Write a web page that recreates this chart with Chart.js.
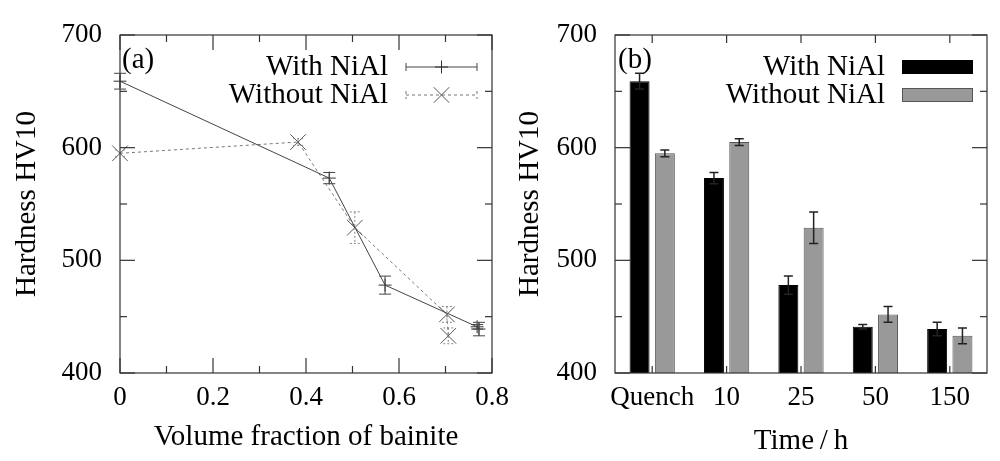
<!DOCTYPE html>
<html>
<head>
<meta charset="utf-8">
<script src="https://cdn.jsdelivr.net/npm/chart.js@4.4.1/dist/chart.umd.min.js"></script>
<style>
  html, body { margin: 0; padding: 0; background: #fff; }
  #wrapA { position: absolute; left: 0; top: 0; }
  #wrapB { position: absolute; left: 500px; top: 0; }
</style>
</head>
<body>
<div id="wrapB"><canvas id="chartB" width="500" height="461"></canvas></div>
<div id="wrapA"><canvas id="chartA" width="520" height="461"></canvas></div>
<script>
// hardness (HV10) per tempering time
const times = ['Quench', '10', '25', '50', '150'];
const hardnessWith = [659, 573, 478, 441, 439];
const errWith = [7, 5, 8, 2, 6];
const hardnessWithout = [595, 605, 529, 452, 433];
const errWithout = [3, 3, 14, 7, 7];

// bainite volume fraction for the same samples
const fractionWith = [0, 0.45, 0.57, 0.768, 0.772];
const fractionWithout = [0, 0.383, 0.505, 0.703, 0.706];

const serif = "'Liberation Serif', 'Times New Roman', serif";
const tickFont = { family: serif, size: 27 };
const textFont = { family: serif, size: 29 };

function points(xs, ys) {
  return xs.map((x, i) => ({ x: x, y: ys[i] }));
}

function line(ctx, x0, y0, x1, y1) {
  ctx.beginPath();
  ctx.moveTo(x0, y0);
  ctx.lineTo(x1, y1);
  ctx.stroke();
}

// box round the plot and inward ticks, gnuplot style
const framePlugin = {
  id: 'frame',
  afterDatasetsDraw(chart, args, opts) {
    const { ctx, chartArea: a, scales: { x, y } } = chart;
    ctx.save();
    ctx.strokeStyle = '#333';
    ctx.lineWidth = 1.2;
    ctx.strokeRect(a.left, a.top, a.right - a.left, a.bottom - a.top);
    for (let v = y.min; v <= y.max + 1e-9; v += opts.yMinor) {
      const p = y.getPixelForValue(v);
      const len = Math.abs((v - y.min) % opts.yMajor) < 1e-6 ? 15 : 7;
      line(ctx, a.left, p, a.left + len, p);
      line(ctx, a.right, p, a.right - len, p);
    }
    if (x.type === 'category') {
      x.getLabels().forEach((lab, i) => {
        const p = x.getPixelForValue(i);
        line(ctx, p, a.bottom, p, a.bottom - 7);
        line(ctx, p, a.top, p, a.top + 8);
      });
    } else {
      for (let v = x.min; v <= x.max + 1e-9; v += opts.xMinor) {
        const p = x.getPixelForValue(v);
        const r = (v - x.min) / opts.xMajor;
        const len = Math.abs(r - Math.round(r)) < 1e-6 ? 15 : 7;
        line(ctx, p, a.bottom, p, a.bottom - len);
        line(ctx, p, a.top, p, a.top + len);
      }
    }
    ctx.restore();
  }
};

const errorBarPlugin = {
  id: 'errorBars',
  afterDatasetsDraw(chart) {
    const ctx = chart.ctx;
    const y = chart.scales.y;
    chart.data.datasets.forEach((ds, di) => {
      if (!ds.errors) return;
      const meta = chart.getDatasetMeta(di);
      ctx.save();
      ctx.strokeStyle = ds.errorColor;
      ctx.lineWidth = ds.errorWidth;
      ctx.setLineDash(ds.errorDash || []);
      meta.data.forEach((el, i) => {
        const d = ds.data[i];
        const val = typeof d === 'object' ? d.y : d;
        const top = y.getPixelForValue(val + ds.errors[i]);
        const bot = y.getPixelForValue(val - ds.errors[i]);
        const w = ds.errorCap;
        ctx.beginPath();
        ctx.moveTo(el.x, top); ctx.lineTo(el.x, bot);
        ctx.moveTo(el.x - w, top); ctx.lineTo(el.x + w, top);
        ctx.moveTo(el.x - w, bot); ctx.lineTo(el.x + w, bot);
        ctx.stroke();
      });
      ctx.restore();
    });
  }
};

// key inside the plot: text right-aligned, sample to its right
const keyPlugin = {
  id: 'key',
  afterDraw(chart, args, opts) {
    const ctx = chart.ctx;
    ctx.save();
    ctx.font = textFont.size + 'px ' + serif;
    ctx.fillStyle = '#000';
    ctx.textBaseline = 'middle';
    ctx.textAlign = 'left';
    ctx.fillText(opts.panel, opts.panelX, opts.panelY);
    chart.data.datasets.forEach((ds, i) => {
      const yy = opts.rows[i];
      const x0 = opts.sampleLeft, x1 = opts.sampleRight;
      ctx.fillStyle = '#000';
      ctx.textAlign = 'right';
      ctx.fillText(ds.label, opts.textRight, yy);
      if (chart.config.type === 'bar') {
        ctx.fillStyle = ds.backgroundColor;
        ctx.strokeStyle = ds.borderColor;
        ctx.lineWidth = 1;
        ctx.fillRect(x0, yy - 7, x1 - x0, 14);
        ctx.strokeRect(x0 + 0.5, yy - 6.5, x1 - x0 - 1, 13);
      } else {
        ctx.strokeStyle = ds.borderColor;
        ctx.lineWidth = 1;
        ctx.setLineDash(ds.borderDash || []);
        line(ctx, x0, yy, x1, yy);
        line(ctx, x0, yy - 4, x0, yy + 4);
        line(ctx, x1, yy - 4, x1, yy + 4);
        ctx.setLineDash([]);
        ctx.strokeStyle = ds.pointBorderColor;
        Chart.helpers.drawPoint(ctx, {
          pointStyle: ds.pointStyle, radius: ds.pointRadius, rotation: 0, borderWidth: 1
        }, (x0 + x1) / 2, yy);
      }
    });
    ctx.restore();
  }
};

new Chart(document.getElementById('chartA'), {
  type: 'scatter',
  data: {
    datasets: [{
      label: 'With NiAl',
      data: points(fractionWith, hardnessWith),
      errors: errWith,
      errorColor: '#444', errorWidth: 1, errorCap: 6,
      showLine: true,
      borderColor: '#444',
      borderWidth: 1,
      pointStyle: 'cross',
      pointRadius: 6.5,
      pointBorderColor: '#333',
      pointBorderWidth: 1,
      clip: false
    }, {
      label: 'Without NiAl',
      data: points(fractionWithout, hardnessWithout),
      errors: errWithout,
      errorColor: '#888', errorWidth: 1, errorCap: 5, errorDash: [2, 2],
      showLine: true,
      borderColor: '#777',
      borderWidth: 1,
      borderDash: [3, 3],
      pointStyle: 'crossRot',
      pointRadius: 11,
      pointBorderColor: '#555',
      pointBorderWidth: 1,
      clip: false
    }]
  },
  options: {
    responsive: false,
    animation: false,
    layout: { padding: { left: 0, right: 28, top: 35, bottom: 0 } },
    plugins: {
      legend: { display: false },
      tooltip: { enabled: false },
      frame: { xMajor: 0.2, xMinor: 0.1, yMajor: 100, yMinor: 50 },
      key: {
        panel: '(a)', panelX: 122, panelY: 60,
        rows: [67, 95], textRight: 388, sampleLeft: 406, sampleRight: 477
      }
    },
    scales: {
      x: {
        type: 'linear', min: 0, max: 0.8,
        ticks: { stepSize: 0.2, padding: 9, font: tickFont, color: '#000', maxRotation: 0 },
        grid: { display: false, drawTicks: false },
        border: { display: false },
        title: { display: true, text: 'Volume fraction of bainite', font: textFont, color: '#000',
                 padding: { top: 0, bottom: 6 } },
        afterFit(s) { s.height = 88; s.paddingLeft = 0; s.paddingRight = 0; }
      },
      y: {
        min: 400, max: 700,
        ticks: { stepSize: 100, padding: 18, font: tickFont, color: '#000' },
        grid: { display: false, drawTicks: false },
        border: { display: false },
        title: { display: true, text: 'Hardness HV10', font: textFont, color: '#000',
                 padding: { top: 10, bottom: 0 } },
        afterFit(s) { s.width = 120; }
      }
    }
  },
  plugins: [framePlugin, errorBarPlugin, keyPlugin]
});

new Chart(document.getElementById('chartB'), {
  type: 'bar',
  data: {
    labels: times,
    datasets: [{
      label: 'With NiAl',
      data: hardnessWith,
      errors: errWith,
      errorColor: '#222', errorWidth: 1.5, errorCap: 4.5,
      backgroundColor: '#000',
      borderColor: '#000',
      borderWidth: 1
    }, {
      label: 'Without NiAl',
      data: hardnessWithout,
      errors: errWithout,
      errorColor: '#222', errorWidth: 1.5, errorCap: 4.5,
      backgroundColor: '#999',
      borderColor: '#555',
      borderWidth: 1
    }]
  },
  options: {
    responsive: false,
    animation: false,
    categoryPercentage: 0.68,
    barPercentage: 0.79,
    layout: { padding: { left: 0, right: 13, top: 35, bottom: 0 } },
    plugins: {
      legend: { display: false },
      tooltip: { enabled: false },
      frame: { yMajor: 100, yMinor: 50 },
      key: {
        panel: '(b)', panelX: 118, panelY: 60,
        rows: [67, 95], textRight: 385, sampleLeft: 402, sampleRight: 473
      }
    },
    scales: {
      x: {
        ticks: { padding: 9, font: tickFont, color: '#000', autoSkip: false, maxRotation: 0, minRotation: 0 },
        grid: { display: false, drawTicks: false },
        border: { display: false },
        title: { display: true, text: 'Time\u2009/\u2009h', font: textFont, color: '#000',
                 padding: { top: 0, bottom: 2 } },
        afterFit(s) { s.height = 88; s.paddingLeft = 0; s.paddingRight = 0; }
      },
      y: {
        min: 400, max: 700,
        ticks: { stepSize: 100, padding: 18, font: tickFont, color: '#000' },
        grid: { display: false, drawTicks: false },
        border: { display: false },
        title: { display: true, text: 'Hardness HV10', font: textFont, color: '#000',
                 padding: { top: 13, bottom: 0 } },
        afterFit(s) { s.width = 115; }
      }
    }
  },
  plugins: [framePlugin, errorBarPlugin, keyPlugin]
});
</script>
</body>
</html>
